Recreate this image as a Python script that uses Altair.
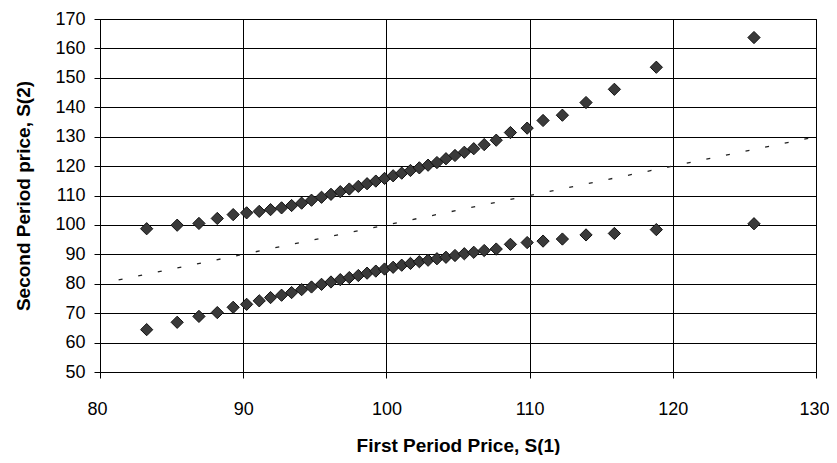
import altair as alt
import pandas as pd

# First-period prices S(1) (shared by both branches)
s1 = [83.26, 85.39, 86.91, 88.19, 89.30, 90.24, 91.12, 91.91, 92.68, 93.38,
      94.08, 94.77, 95.47, 96.13, 96.78, 97.41, 98.04, 98.65, 99.26, 99.87,
      100.47, 101.07, 101.68, 102.30, 102.91, 103.53, 104.16, 104.79, 105.44, 106.10,
      106.83, 107.67, 108.66, 109.83, 110.94, 112.29, 113.94, 115.92, 118.85, 125.67]

# Second-period price, up branch
s2_up = [98.7, 99.9, 100.5, 102.2, 103.5, 104.1, 104.6, 105.2, 105.8, 106.6,
         107.4, 108.4, 109.4, 110.4, 111.3, 112.2, 113.1, 114.0, 114.9, 115.8,
         116.7, 117.6, 118.5, 119.4, 120.3, 121.2, 122.5, 123.6, 124.7, 125.9,
         127.3, 128.8, 131.4, 132.9, 135.5, 137.3, 141.6, 146.1, 153.6, 163.7]

# Second-period price, down branch
s2_down = [64.4, 66.9, 68.9, 70.2, 72.0, 73.0, 74.2, 75.3, 76.1, 77.0,
           78.0, 78.9, 79.8, 80.6, 81.4, 82.1, 82.8, 83.6, 84.3, 85.0,
           85.6, 86.3, 86.9, 87.5, 88.0, 88.5, 89.0, 89.6, 90.2, 90.7,
           91.3, 91.8, 93.4, 94.0, 94.5, 95.2, 96.6, 97.1, 98.4, 100.4]

# Dotted reference line S(2) = S(1)
diag = [81.3, 130.0]

x_ticks = [80, 90, 100, 110, 120, 130]
y_ticks = [50, 60, 70, 80, 90, 100, 110, 120, 130, 140, 150, 160, 170]

n = len(s1)
pts = pd.DataFrame({
    "s1": s1 + s1,
    "s2": s2_up + s2_down,
    "branch": ["up"] * n + ["down"] * n,
})
line_df = pd.DataFrame({"s1": diag, "s2": diag})

FONT = "Liberation Sans"

x_enc = alt.X(
    "s1:Q",
    scale=alt.Scale(domain=[80, 130], nice=False, zero=False),
    axis=alt.Axis(
        values=x_ticks, title="First Period Price, S(1)", grid=True,
        labelFontSize=18, titleFontSize=19, labelPadding=22, titlePadding=18,
        labelFlush=True, labelFlushOffset=13,
    ),
)
y_enc = alt.Y(
    "s2:Q",
    scale=alt.Scale(domain=[50, 170], nice=False, zero=False),
    axis=alt.Axis(
        values=y_ticks, title="Second Period price, S(2)", grid=True,
        labelFontSize=18, titleFontSize=19, labelPadding=9, titlePadding=21,
        labelFlush=False,
    ),
)

diag_line = alt.Chart(line_df).mark_line(
    color="#222222", strokeWidth=1.3, strokeDash=[4, 16]
).encode(x=x_enc, y=y_enc)

points = alt.Chart(pts).mark_point(
    shape="diamond", filled=True, size=150, fill="#3a3a3a",
    stroke="#111111", strokeWidth=1, opacity=1
).encode(x=x_enc, y=y_enc, detail="branch:N")

chart = alt.layer(diag_line, points).properties(
    width=716, height=353,
    autosize=alt.AutoSizeParams(type="none"),
    padding={"left": 92, "top": 11, "right": 13, "bottom": 83},
).configure_view(
    stroke="black", strokeWidth=1
).configure_axis(
    gridColor="black", gridWidth=1, gridOpacity=1,
    domainColor="black", domainWidth=1,
    tickColor="black", tickSize=6, tickWidth=1,
    labelColor="black", titleColor="black",
    labelFont=FONT, titleFont=FONT, titleFontWeight="bold",
)

chart.save("out.html", embed_options={"renderer": "svg", "actions": False})
